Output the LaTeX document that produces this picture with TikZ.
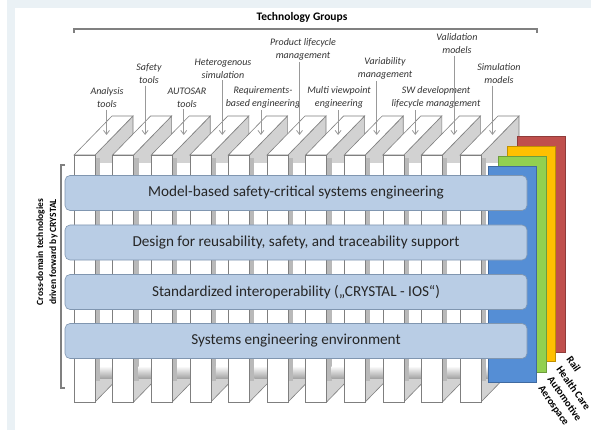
\documentclass[tikz,border=0pt]{standalone}
\usepackage{fontspec}
\setmainfont{Carlito}
\usetikzlibrary{arrows.meta}
\definecolor{bg}{HTML}{EAF1F5}
\definecolor{boxfill}{HTML}{B9CDE5}
\definecolor{boxline}{HTML}{8096B0}
\definecolor{railred}{HTML}{C0504D}
\definecolor{healthorange}{HTML}{FFC000}
\definecolor{autogreen}{HTML}{92D050}
\definecolor{aeroblue}{HTML}{558ED5}
\definecolor{pillarline}{HTML}{7F7F7F}
\tikzset{
  front/.style={draw=pillarline, fill=white, line width=0.6pt},
  side/.style={draw=pillarline, fill=gray!35, line width=0.6pt},
  layer/.style={draw=boxline, fill=boxfill, rounded corners=5pt, line width=0.6pt,
    minimum width=462pt, minimum height=35pt, inner sep=0pt,
    font=\fontsize{15.2}{18}\selectfont, text=black!85},
  group/.style={align=center, inner sep=2pt, font=\fontsize{10}{12.8}\selectfont\itshape, text=black!80},
  sector/.style={anchor=west, rotate=-55, inner sep=0pt, font=\fontsize{10.5}{12}\selectfont\bfseries},
  panel/.style={fill=#1, draw=#1!75!black, line width=0.8pt},
  bracket/.style={draw=gray, line width=1.2pt},
  tip/.style={draw=gray!80, line width=0.8pt, -{Straight Barb[length=4pt,width=6pt]}}
}
\begin{document}
\begin{tikzpicture}[x=1pt,y=-1pt]
  \useasboundingbox (0,0) rectangle (591,430);
  \fill[bg] (7,0) rectangle (591,430);
  \fill[white] (15,8) rectangle (591,430);
  \foreach \i in {0,...,10}{
    \pgfmathsetmacro{\a}{74+38.6*\i}
    \draw[side] (\a+21,155) -- (\a+59,116) -- (\a+59,363) -- (\a+21,402) -- cycle;
    \fill[gray!55] (\a+21,158) rectangle (\a+26,381);
    \fill[white] (\a+26,163) rectangle (\a+38.6,378);
    \shade[top color=white, bottom color=gray!70] (\a+26,366) rectangle (\a+38.6,378);
    \draw[front] (\a,155) -- (\a+38,116) -- (\a+59,116) -- (\a+21,155) -- cycle;
    \draw[front] (\a,155) rectangle (\a+21,402);
    \coordinate (p\i) at (\a+32.5,135);
  }
  \draw[panel=railred] (517,136) rectangle (565,352);
  \draw[panel=healthorange] (507,146) rectangle (555,361);
  \draw[panel=autogreen] (498,156) rectangle (546,372);
  \draw[panel=aeroblue] (488,166) rectangle (536,382);
  \node[layer] (mbse) at (296,193) {Model-based safety-critical systems engineering};
  \node[layer] (reuse) at (296,242.5) {Design for reusability, safety, and traceability support};
  \node[layer] (ios) at (296,292) {Standardized interoperability („CRYSTAL - IOS“)};
  \node[layer] (env) at (296,341) {Systems engineering environment};
  \draw[bracket] (74,33) -- (74,29) -- (537,29) -- (537,33);
  \draw[bracket] (65,165) -- (61,165) -- (61,388) -- (65,388);
  \node[font=\fontsize{11.5}{13}\selectfont\bfseries] (groups) at (302,17) {Technology Groups};
  \node[rotate=90, align=center, font=\fontsize{9.5}{13}\selectfont\bfseries] (crystal) at (47,252)
    {Cross-domain technologies\\driven forward by CRYSTAL};
  \node[group] (analysis) at (107,97.5) {Analysis\\tools};
  \node[group] (safety) at (149,73.5) {Safety\\tools};
  \node[group] (autosar) at (187,97.5) {AUTOSAR\\tools};
  \node[group] (hetero) at (223,68.5) {Heterogenous\\simulation};
  \node[group] (reqs) at (263,97.5) {Requirements-\\based engineering};
  \node[group] (plm) at (303,49) {Product lifecycle\\management};
  \node[group] (viewpoint) at (339,97.5) {Multi viewpoint\\engineering};
  \node[group] (variab) at (385,68.5) {Variability\\management};
  \node[group] (swdev) at (436,97.5) {SW development\\lifecycle management};
  \node[group] (valid) at (457,43.5) {Validation\\models};
  \node[group] (simul) at (499,73.5) {Simulation\\models};
  \begin{scope}[tip]
    \draw (p0 |- analysis.south) to (p0);
    \draw (p1 |- safety.south) to (p1);
    \draw (p2 |- autosar.south) to (p2);
    \draw (p3 |- hetero.south) to (p3);
    \draw (p4 |- reqs.south) to (p4);
    \draw (p5 |- plm.south) to (p5);
    \draw (p6 |- viewpoint.south) to (p6);
    \draw (p7 |- variab.south) to (p7);
    \draw (p8 |- swdev.south) to (p8);
    \draw (p9 |- valid.south) to (p9);
    \draw (p10 |- simul.south) to (p10);
  \end{scope}
  \node[sector] (rail) at (569,357) {Rail};
  \node[sector] (health) at (559,367) {Health Care};
  \node[sector] (automotive) at (550,377) {Automotive};
  \node[sector] (aerospace) at (540,387) {Aerospace};
\end{tikzpicture}
\end{document}
